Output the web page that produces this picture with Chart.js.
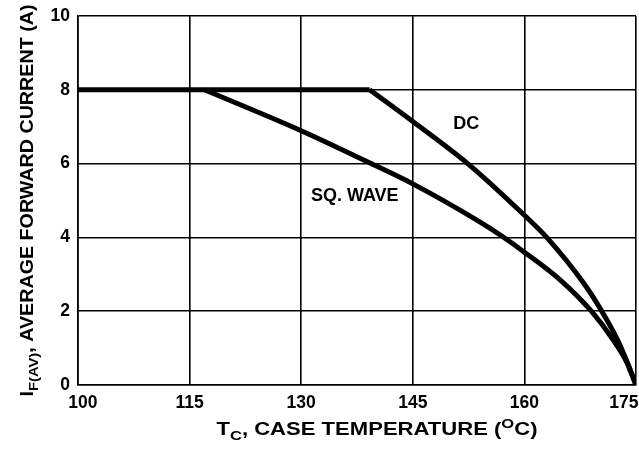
<!DOCTYPE html>
<html>
<head>
<meta charset="utf-8">
<script src="https://cdn.jsdelivr.net/npm/chart.js@4.4.0/dist/chart.umd.min.js"></script>
<style>
  html, body { margin: 0; padding: 0; background: #fff; }
  #wrap { width: 639px; height: 450px; position: relative; }
</style>
</head>
<body>
<div id="wrap"><canvas id="graph" width="639" height="450"></canvas></div>
<script>
// case temperature (degC) vs average forward current (A)
const flatTemp = [100, 139.2];
const flatCurrent = [8, 8];

const dcTemp = [139.2, 145, 152.5, 160, 163.0, 168.0, 170.4, 172.5, 173.75, 175];
const dcCurrent = [8, 7.14, 5.98, 4.6, 4, 2.75, 2, 1.23, 0.65, 0];

const sqTemp = [117, 130, 139.4, 145, 154, 157, 160, 164.8, 169.0, 171.9, 173.75, 175];
const sqCurrent = [8, 6.89, 6, 5.45, 4.42, 4.03, 3.6, 2.85, 2, 1.23, 0.62, 0];

const xTicks = [100, 115, 130, 145, 160, 175];
const yTicks = [0, 2, 4, 6, 8, 10];

const FONT = "Liberation Sans, Arial, Helvetica, sans-serif";

const toPoints = (xs, ys) => xs.map((x, i) => ({ x: x, y: ys[i] }));

// curve labels, in data coordinates
const curveLabels = [
  { text: "DC", x: 152.2, y: 7.06 },
  { text: "SQ. WAVE", x: 137.2, y: 5.11 },
];

// width of a run of text pieces (sub/superscripts are smaller)
function richWidth(ctx, parts, size) {
  let w = 0;
  parts.forEach((p) => {
    ctx.font = "bold " + (p.s ? size * 0.75 : size) + "px " + FONT;
    w += ctx.measureText(p.t).width;
  });
  return w;
}

function paintRich(ctx, parts, size, x, y) {
  parts.forEach((p) => {
    ctx.font = "bold " + (p.s ? size * 0.75 : size) + "px " + FONT;
    let dy = 0;
    if (p.s === "sub") dy = size * 0.3;
    if (p.s === "sup") dy = -size * 0.4;
    ctx.fillText(p.t, x, y + dy);
    x += ctx.measureText(p.t).width;
  });
}

// draws a title centred at (cx, cy), stretched along its length to `len` px
function drawTitle(ctx, parts, size, cx, cy, len, angle) {
  const w = richWidth(ctx, parts, size);
  ctx.save();
  ctx.translate(cx, cy);
  ctx.rotate(angle);
  ctx.scale(len / w, 1);
  paintRich(ctx, parts, size, -w / 2, 0);
  ctx.restore();
}

const textPlugin = {
  id: "textPlugin",
  afterDraw(chart) {
    const ctx = chart.ctx;
    const xs = chart.scales.x;
    const ys = chart.scales.y;
    const area = chart.chartArea;
    ctx.save();
    ctx.fillStyle = "#000";

    // curve names
    ctx.font = "bold 18px " + FONT;
    ctx.textAlign = "center";
    ctx.textBaseline = "middle";
    curveLabels.forEach((l) => {
      ctx.fillText(l.text, xs.getPixelForValue(l.x), ys.getPixelForValue(l.y));
    });

    ctx.textAlign = "left";
    ctx.textBaseline = "alphabetic";

    // x title
    const xParts = [
      { t: "T" }, { t: "C", s: "sub" }, { t: ", CASE TEMPERATURE (" },
      { t: "O", s: "sup" }, { t: "C)" },
    ];
    drawTitle(ctx, xParts, 18, 377, 435, 321, 0);

    // y title
    const yParts = [
      { t: "I" }, { t: "F(AV)", s: "sub" }, { t: ", AVERAGE FORWARD CURRENT (A)" },
    ];
    drawTitle(ctx, yParts, 18, 33, (area.top + area.bottom) / 2, 392, -Math.PI / 2);
    ctx.restore();
  },
};

const lineStyle = {
  borderColor: "#000",
  borderWidth: 5,
  pointRadius: 0,
  fill: false,
  cubicInterpolationMode: "monotone",
  borderCapStyle: "butt",
  borderJoinStyle: "round",
};

// nudge the end labels the way the original sheet places them
const tickText = (v) => (v === 100 ? "  100" : v === 175 ? "175     " : String(v));

new Chart(document.getElementById("graph"), {
  type: "line",
  data: {
    datasets: [
      Object.assign({ label: "DC flat", data: toPoints(flatTemp, flatCurrent) }, lineStyle),
      Object.assign({ label: "DC", data: toPoints(dcTemp, dcCurrent) }, lineStyle),
      Object.assign({ label: "SQ. WAVE", data: toPoints(sqTemp, sqCurrent) }, lineStyle),
    ],
  },
  options: {
    responsive: false,
    animation: false,
    events: [],
    layout: { padding: { top: 16, right: 3, left: 0, bottom: 0 } },
    plugins: { legend: { display: false }, tooltip: { enabled: false } },
    scales: {
      x: {
        type: "linear",
        min: 100,
        max: 175,
        afterBuildTicks: (s) => { s.ticks = xTicks.map((v) => ({ value: v })); },
        afterFit: (s) => { s.height = 65; s.paddingLeft = 0; s.paddingRight = 0; },
        grid: { color: "#000", lineWidth: 1.6, drawTicks: false },
        border: { color: "#000", width: 1.6 },
        ticks: {
          color: "#000",
          padding: 8,
          maxRotation: 0,
          callback: tickText,
          font: { family: FONT, size: 17.5, weight: "bold" },
        },
      },
      y: {
        type: "linear",
        min: 0,
        max: 10,
        afterBuildTicks: (s) => { s.ticks = yTicks.map((v) => ({ value: v })); },
        afterFit: (s) => { s.width = 78; s.paddingTop = 0; s.paddingBottom = 0; },
        grid: { color: "#000", lineWidth: 1.6, drawTicks: false },
        border: { color: "#000", width: 1.6 },
        ticks: {
          color: "#000",
          padding: 8,
          font: { family: FONT, size: 17.5, weight: "bold" },
        },
      },
    },
  },
  plugins: [textPlugin],
});
</script>
</body>
</html>
